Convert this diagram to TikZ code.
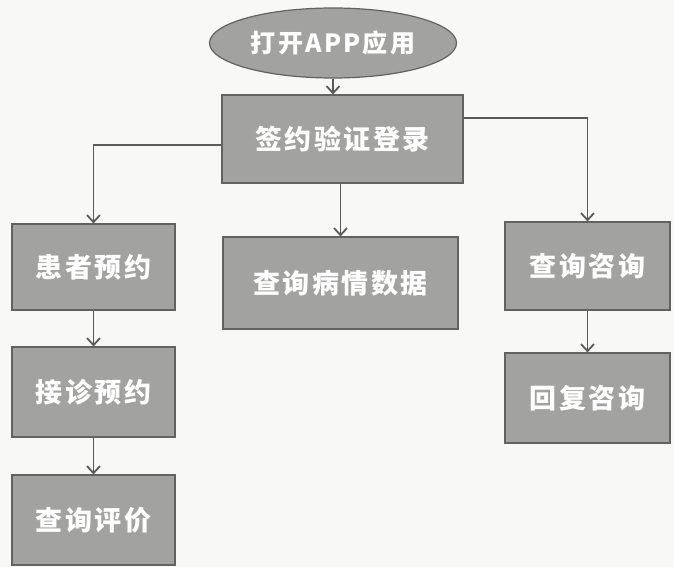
\documentclass[tikz,border=0pt]{standalone}
\usepackage{fontspec}
\setmainfont{Noto Sans CJK SC}[LetterSpace=9]
\usetikzlibrary{shapes.geometric,arrows.meta}
\definecolor{boxfill}{HTML}{A2A2A0}
\definecolor{boxline}{HTML}{626262}
\definecolor{conn}{HTML}{5A5A5A}
\definecolor{paper}{HTML}{F8F8F6}
\tikzset{
  procbox/.style={rectangle, fill=boxfill, draw=boxline, line width=1.2pt, inner sep=0pt,
    text=white, font=\fontsize{27}{30}\selectfont\bfseries},
  startnode/.style={ellipse, fill=boxfill, draw=boxline, line width=1.2pt, inner sep=0pt,
    text=white, font=\fontsize{25}{28}\selectfont\bfseries},
  flow/.style={draw=conn, line width=1.8pt, -{Straight Barb[length=7pt,width=13pt]}}
}
\begin{document}
\begin{tikzpicture}[x=1pt,y=-1pt]
\fill[paper] (0,0) rectangle (674,567);
\useasboundingbox (0,0) rectangle (674,567);
\node[startnode, minimum width=247pt, minimum height=70pt] (start) at (333,43) {打开APP应用};
\node[procbox, minimum width=241pt, minimum height=88pt] (main) at (342.5,139) {签约验证登录};
\node[procbox, minimum width=163pt, minimum height=86pt] (p1) at (93.5,267) {患者预约};
\node[procbox, minimum width=235pt, minimum height=92pt] (data) at (340.5,283) {查询病情数据};
\node[procbox, minimum width=165pt, minimum height=88pt] (q) at (587.5,266) {查询咨询};
\node[procbox, minimum width=163pt, minimum height=90pt] (j) at (93.5,392) {接诊预约};
\node[procbox, minimum width=165pt, minimum height=90pt] (r) at (587.5,398) {回复咨询};
\node[procbox, minimum width=163pt, minimum height=90pt] (e) at (93.5,520) {查询评价};
\draw[flow] (start.south) -- (main.north -| start.south);
\draw[flow] ([yshift=-6pt]main.west) -| (p1.north);
\draw[flow] (main.south -| data.north) -- (data.north);
\draw[flow] ([yshift=21pt]main.east) -| (q.north);
\draw[flow] (p1.south) -- (j.north);
\draw[flow] (j.south) -- (e.north);
\draw[flow] (q.south) -- (r.north);
\end{tikzpicture}
\end{document}
